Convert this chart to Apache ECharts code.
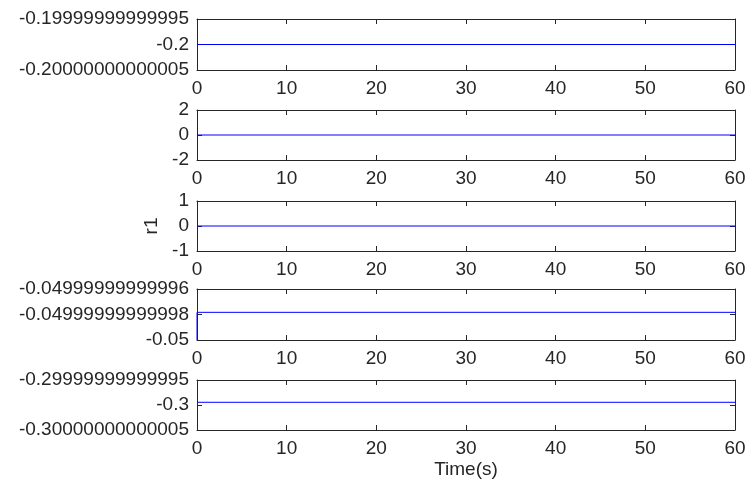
<!DOCTYPE html>
<html>
<head>
<meta charset="utf-8">
<script src="https://cdn.jsdelivr.net/npm/echarts@6/dist/echarts.min.js"></script>
<style>
  html, body { margin: 0; padding: 0; background: #fff; }
  #chart { width: 747px; height: 485px; }
</style>
</head>
<body>
<div id="chart"></div>
<script>
// time axis
var xTicks = [0, 10, 20, 30, 40, 50, 60];

// one line per subplot: time points and values
var t1 = [0, 60];
var s1 = [-0.2, -0.2];
var t2 = [0, 60];
var s2 = [0, 0];
var t3 = [0, 60];
var s3 = [0, 0];
var t4 = [0, 0, 60];
var s4 = [-0.05, -0.0499999999999783, -0.0499999999999783];
var t5 = [0, 60];
var s5 = [-0.2999999999999946, -0.2999999999999946];

// y tick values and their printed labels
var yTicks1 = [-0.20000000000005, -0.2, -0.19999999999995];
var yLabels1 = ["-0.20000000000005", "-0.2", "-0.19999999999995"];
var yTicks2 = [-2, 0, 2];
var yLabels2 = ["-2", "0", "2"];
var yTicks3 = [-1, 0, 1];
var yLabels3 = ["-1", "0", "1"];
var yTicks4 = [-0.05, -0.04999999999998, -0.04999999999996];
var yLabels4 = ["-0.05", "-0.04999999999998", "-0.04999999999996"];
var yTicks5 = [-0.30000000000005, -0.3, -0.29999999999995];
var yLabels5 = ["-0.30000000000005", "-0.3", "-0.29999999999995"];

var yName3 = "r1";
var xName = "Time(s)";

var times = [t1, t2, t3, t4, t5];
var values = [s1, s2, s3, s4, s5];
var yTicks = [yTicks1, yTicks2, yTicks3, yTicks4, yTicks5];
var yLabels = [yLabels1, yLabels2, yLabels3, yLabels4, yLabels5];

// subplot boxes
var tops = [19, 110, 201, 289, 380];
var heights = [51, 50, 50, 51, 50];
var txt = "#262626";
var font = "Liberation Sans, Arial, Helvetica, sans-serif";
var fs = 19;

var grids = [], xAxes = [], yAxes = [], series = [];

function labelFor(k) {
  return function (val) {
    var best = 0, d = Infinity;
    for (var j = 0; j < yTicks[k].length; j++) {
      var dd = Math.abs(yTicks[k][j] - val);
      if (dd < d) { d = dd; best = j; }
    }
    return yLabels[k][best];
  };
}

for (var i = 0; i < 5; i++) {
  grids.push({
    left: 197, right: 12, top: tops[i], height: heights[i],
    show: false, containLabel: false, outerBoundsMode: "none"
  });
  var ymin = yTicks[i][0], ymax = yTicks[i][yTicks[i].length - 1];
  // bottom + top x axes (box with inward ticks)
  xAxes.push({
    type: "value", gridIndex: i, min: 0, max: 60, interval: 10, position: "bottom",
    axisLine: { show: true, onZero: false, lineStyle: { color: txt, width: 1 } },
    axisTick: { show: true, inside: true, length: 5, lineStyle: { color: txt } },
    axisLabel: { show: true, color: txt, fontSize: fs, fontFamily: font, margin: 9 },
    splitLine: { show: false },
    name: i === 4 ? xName : "", nameLocation: "middle", nameGap: 30,
    nameTextStyle: { color: txt, fontSize: fs, fontFamily: font }
  });
  xAxes.push({
    type: "value", gridIndex: i, min: 0, max: 60, interval: 10, position: "top",
    axisLine: { show: true, onZero: false, lineStyle: { color: txt, width: 1 } },
    axisTick: { show: true, inside: true, length: 5, lineStyle: { color: txt } },
    axisLabel: { show: false },
    splitLine: { show: false }
  });
  // left + right y axes
  yAxes.push({
    type: "value", gridIndex: i, min: ymin, max: ymax, position: "left",
    axisLine: { show: true, onZero: false, lineStyle: { color: txt, width: 1 } },
    axisTick: { show: true, inside: true, length: 5, customValues: yTicks[i], lineStyle: { color: txt } },
    axisLabel: { show: true, color: txt, fontSize: fs, fontFamily: font, margin: 8,
      customValues: yTicks[i], formatter: labelFor(i) },
    splitLine: { show: false },
    name: i === 2 ? yName3 : "", nameLocation: "middle", nameGap: 33, nameRotate: 90,
    nameTextStyle: { color: txt, fontSize: fs, fontFamily: font }
  });
  yAxes.push({
    type: "value", gridIndex: i, min: ymin, max: ymax, position: "right",
    axisLine: { show: true, onZero: false, lineStyle: { color: txt, width: 1 } },
    axisTick: { show: true, inside: true, length: 5, customValues: yTicks[i], lineStyle: { color: txt } },
    axisLabel: { show: false },
    splitLine: { show: false }
  });
  var pts = [];
  for (var j = 0; j < times[i].length; j++) pts.push([times[i][j], values[i][j]]);
  series.push({
    type: "line", xAxisIndex: 2 * i, yAxisIndex: 2 * i, data: pts,
    showSymbol: false, symbol: "none", z: 100,
    lineStyle: { color: "#0000ff", width: 1 }
  });
}

var chart = echarts.init(document.getElementById("chart"));
chart.setOption({
  animation: false,
  backgroundColor: "#fff",
  grid: grids,
  xAxis: xAxes,
  yAxis: yAxes,
  series: series
});
</script>
</body>
</html>
